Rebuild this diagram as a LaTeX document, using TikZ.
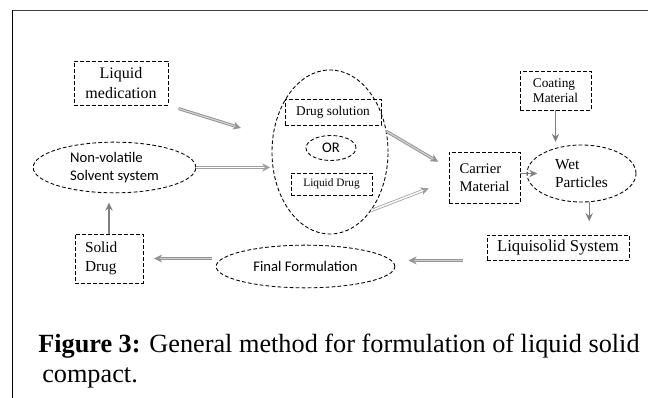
\documentclass[tikz,border=0pt]{standalone}
\usepackage{fontspec}
\setmainfont{Liberation Serif}
\newfontfamily\calibfont{Carlito}
\usetikzlibrary{
    arrows.meta,
    calc,
    shapes.geometric
}

\begin{document}
\begin{tikzpicture}[x=0.75pt, y=-0.75pt,
    box/.style={draw, dash pattern=on 2.8pt off 1.7pt, line width=0.65pt, inner sep=0pt, align=center},
    oval/.style={box, ellipse},
    flow/.style={draw=gray, line width=1pt, -{Stealth[length=6pt,width=5.5pt]}},
    wide/.style={draw=gray!85, double=gray!35, double distance=0.9pt, line width=0.7pt, -{Stealth[length=6pt,width=6pt]}},
    hollow/.style={draw=gray!75, double=white, double distance=1.1pt, line width=0.6pt, -{Stealth[length=6pt,width=6pt]}}
]
\useasboundingbox (0,0) rectangle (648,398);

% Frame
\draw[line width=1.4pt, black!75] (648,10.5) -- (12.5,10.5);
\draw[line width=0.9pt] (12.5,10.5) -- (12.5,398);

% Nodes
\node[box, minimum width=70.5pt, minimum height=33pt, font=\fontsize{12}{15}\selectfont] (liqmed) at (121,83) {Liquid\\medication};
\node[box, minimum width=53.25pt, minimum height=29.25pt, align=left, font=\fontsize{10}{11.5}\selectfont] (coating) at (555.5,90.5) {Coating\\Material};
\node[oval, minimum width=87pt, minimum height=123pt] (bigell) at (330,152) {};
\node[box, minimum width=72pt, minimum height=19.5pt, font=\fontsize{10}{12}\selectfont] (drugsol) at (333,112) {Drug solution};
\node[oval, minimum width=37.5pt, minimum height=18.75pt, font=\calibfont\fontsize{11}{13}\selectfont] (orell) at (331,148) {OR};
\node[box, minimum width=60.75pt, minimum height=16.5pt, font=\fontsize{8.5}{10}\selectfont] (liqdrug) at (331.5,184) {Liquid Drug};
\node[oval, minimum width=122pt, minimum height=38pt, align=left, font=\calibfont\fontsize{11}{13.5}\selectfont] (nonvol) at (114.5,167.5) {Non-volatile\\Solvent system};
\node[box, minimum width=53.25pt, minimum height=38.25pt, align=left, font=\fontsize{11}{13.5}\selectfont] (carrier) at (484.5,177.5) {Carrier\\Material};
\node[oval, minimum width=81.75pt, minimum height=42.75pt, align=left, font=\fontsize{11.5}{13.5}\selectfont] (wet) at (581.5,173.5) {Wet\\Particles};
\node[box, minimum width=106.5pt, minimum height=18.75pt, font=\fontsize{12.5}{14}\selectfont] (liqsol) at (558,247.5) {Liquisolid System};
\node[oval, minimum width=134pt, minimum height=32pt, font=\calibfont\fontsize{11}{13}\selectfont] (final) at (305.5,266.5) {Final Formulation};
\node[box, minimum height=36.75pt, inner xsep=7.5pt, text width=36pt, align=left, font=\fontsize{11.5}{14.25}\selectfont] (solid) at (109,258.5) {Solid\\Drug};

% Arrows
\coordinate (medin) at (241,128);
\draw[wide, shorten <=8pt] (liqmed.south east) -- (medin);
\draw[hollow, shorten >=1pt] (nonvol.east) -- (nonvol.east -| bigell.west);
\draw[wide, shorten >=9pt] (bigell.20) -- (carrier.165);
\draw[hollow, shorten >=16pt] (bigell.-55) -- (carrier.185);
\draw[flow, shorten >=-8pt] (carrier.east |- wet.west) -- (wet.west);
\draw[flow, shorten >=2pt] (coating.south) -- (coating.south |- wet.north);
\draw[flow, shorten >=10pt] (wet.-75) -- (wet.-75 |- liqsol.north);
\draw[wide, shorten <=18pt, shorten >=10pt] (liqsol.south west) -- (liqsol.south west -| final.east);
\draw[wide, shorten <=3pt, shorten >=8pt] (solid.east -| final.west) -- (solid.east);
\draw[flow, shorten >=7pt] (solid.north) -- (solid.north |- nonvol.south);

% Caption
\node[anchor=base west, inner sep=0pt, font=\fontsize{19.7}{23}\selectfont] (cap1) at (38,352) {\textbf{Figure 3:} General method for formulation of liquid solid};
\node[anchor=base west, inner sep=0pt, font=\fontsize{19.7}{23}\selectfont] (cap2) at (42,382) {compact.};

\end{tikzpicture}
\end{document}
